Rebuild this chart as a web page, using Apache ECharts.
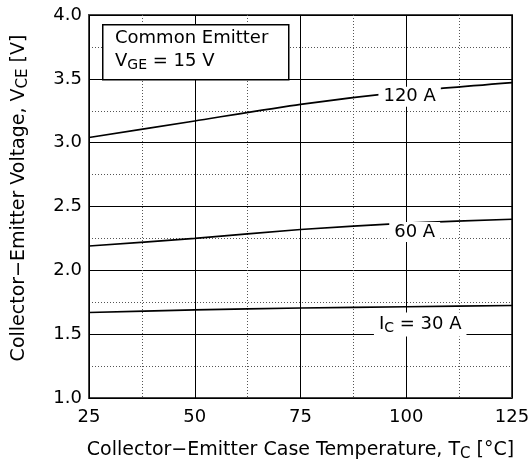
<!DOCTYPE html>
<html>
<head>
<meta charset="utf-8">
<script src="https://cdn.jsdelivr.net/npm/echarts@6/dist/echarts.min.js"></script>
<style>
html,body{margin:0;padding:0;background:#fff;}
#chart{width:531px;height:461px;}
</style>
</head>
<body>
<div id="chart"></div>
<script>
// ---- data ----
var temps = [25, 50, 75, 100, 125];
var v120 = [3.04, 3.17, 3.30, 3.40, 3.47];
var v60 = [2.19, 2.25, 2.32, 2.37, 2.40];
var v30 = [1.67, 1.69, 1.705, 1.715, 1.725];
var seriesNames = ['120 A', '60 A', 'IC = 30 A'];
var labelTexts = ['120 A', '60 A', '{n|I}{s|C}{n| = 30 A}'];
var labelAnchors = [[100.8, 3.36], [102, 2.30], [103.3, 1.575]];
var xTicks = [25, 50, 75, 100, 125];
var yTicks = [1.0, 1.5, 2.0, 2.5, 3.0, 3.5, 4.0];

var FONT = '"DejaVu Sans", sans-serif';
var chart = echarts.init(document.getElementById('chart'), null, {renderer: 'canvas'});

function pair(xs, ys) { return xs.map(function (x, i) { return [x, ys[i]]; }); }
var allVals = [v120, v60, v30];

var subStyle = {fontSize: 14, fontFamily: FONT, color: '#000', verticalAlign: 'bottom', padding: [8, 0, 0, 0]};
var subStyleT = {fontSize: 15, fontFamily: FONT, color: '#000', verticalAlign: 'bottom', padding: [8, 0, 0, 0]};

var series = allVals.map(function (vals, i) {
  return {
    name: seriesNames[i],
    type: 'line',
    data: pair(temps, vals),
    showSymbol: false,
    smooth: 0.2,
    lineStyle: {color: '#000', width: 1.6},
    z: 3,
    markPoint: {
      symbol: 'rect',
      symbolSize: 1,
      itemStyle: {color: 'rgba(0,0,0,0)'},
      data: [{coord: labelAnchors[i], value: 0}],
      label: {
        show: true,
        position: 'inside',
        formatter: labelTexts[i],
        color: '#000',
        fontFamily: FONT,
        fontSize: 18,
        backgroundColor: '#fff',
        padding: [1, 5, 1, 5],
        rich: {
          n: {fontSize: 18, fontFamily: FONT, color: '#000'},
          s: subStyle
        }
      },
      z: 5
    }
  };
});

var option = {
  backgroundColor: '#fff',
  animation: false,
  grid: {left: 89, right: 19, top: 15, bottom: 63, show: true, borderColor: '#444', borderWidth: 2,
    backgroundColor: 'transparent', containLabel: false, outerBoundsMode: 'none'},
  xAxis: {
    type: 'value', min: xTicks[0], max: xTicks[xTicks.length - 1], interval: 25,
    axisLine: {show: false}, axisTick: {show: false},
    axisLabel: {color: '#000', fontFamily: FONT, fontSize: 18, margin: 10},
    splitLine: {show: true, lineStyle: {color: '#000', width: 1}},
    minorTick: {show: false, splitNumber: 2},
    minorSplitLine: {show: true, lineStyle: {color: '#555', width: 1, type: [1, 2]}},
    name: 'Collector\u2212Emitter Case Temperature, T{s|C} [\u00B0C]',
    nameLocation: 'middle', nameGap: 41,
    nameTextStyle: {color: '#000', fontFamily: FONT, fontSize: 19, rich: {s: subStyleT}}
  },
  yAxis: {
    type: 'value', min: yTicks[0], max: yTicks[yTicks.length - 1], interval: 0.5,
    axisLine: {show: false}, axisTick: {show: false},
    axisLabel: {color: '#000', fontFamily: FONT, fontSize: 18, margin: 7,
      formatter: function (v) { return v.toFixed(1); }},
    splitLine: {show: true, lineStyle: {color: '#000', width: 1}},
    minorTick: {show: false, splitNumber: 2},
    minorSplitLine: {show: true, lineStyle: {color: '#555', width: 1, type: [1, 2]}},
    name: 'Collector\u2212Emitter Voltage, V{s|CE} [V]',
    nameLocation: 'middle', nameGap: 58, nameRotate: 90,
    nameTextStyle: {color: '#000', fontFamily: FONT, fontSize: 19, padding: [0, 0, 0, 17], rich: {s: subStyleT}}
  },
  series: series,
  graphic: [
    {type: 'rect', left: 102, top: 24, z: 10,
      shape: {width: 186, height: 55},
      style: {fill: '#fff', stroke: '#000', lineWidth: 1.5}},
    {type: 'text', left: 115, top: 29, z: 11,
      style: {text: 'Common Emitter', font: '18px "DejaVu Sans", sans-serif', fill: '#000'}},
    {type: 'text', left: 115, top: 52, z: 11,
      style: {text: '{n|V}{s|GE}{n| = 15 V}', fill: '#000',
        rich: {n: {fontSize: 18, fontFamily: FONT, fill: '#000'},
               s: {fontSize: 14, fontFamily: FONT, fill: '#000', verticalAlign: 'bottom', padding: [8, 0, 0, 0]}}}}
  ]
};
chart.setOption(option);
</script>
</body>
</html>
